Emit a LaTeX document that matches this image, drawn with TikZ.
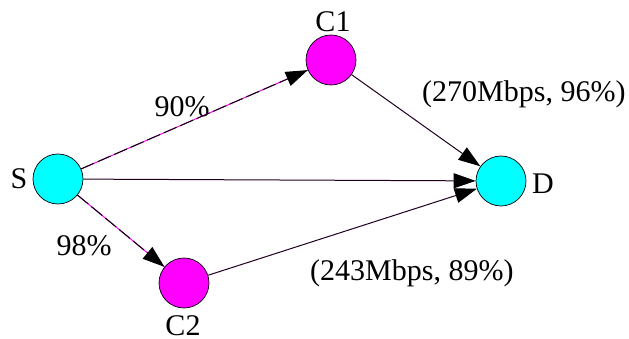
\documentclass[tikz,border=0pt]{standalone}
\usepackage{fontspec}
\setmainfont{Liberation Serif}
\usetikzlibrary{arrows.meta}
\definecolor{vcyan}{RGB}{0,255,255}
\definecolor{vmag}{RGB}{255,0,255}
\definecolor{edgec}{RGB}{32,0,32}
\begin{document}
\begin{tikzpicture}[x=1pt,y=-1pt,
  vert/.style={circle,draw=black,line width=0.7pt,minimum size=50pt,inner sep=0pt},
  cyanv/.style={vert,fill=vcyan},
  magv/.style={vert,fill=vmag},
  lbl/.style={font=\fontsize{30}{32}\selectfont,inner sep=0pt},
  edge/.style={line width=1pt,draw=edgec,-{Triangle[length=22pt,width=15pt,color=black]}},
  dedge/.style={line width=1pt,draw=vmag,postaction={draw=black,dash pattern=on 14pt off 4pt,-{Triangle[length=22pt,width=15pt]}}},
]
\useasboundingbox (0,0) rectangle (629,339);
\node[cyanv] (S) at (58,179) {};
\node[magv] (C1) at (331,60) {};
\node[magv] (C2) at (184,283) {};
\node[cyanv] (D) at (501,181) {};
\node[lbl] (lS) at (19,179) {S};
\node[lbl] (lC1) at (333,22) {C1};
\node[lbl] (lC2) at (183,326) {C2};
\node[lbl] (lD) at (543,184) {D};
\node[lbl] (l90) at (182,107) {90\%};
\node[lbl] (l98) at (84,246) {98\%};
\node[lbl,anchor=west] (l270) at (422,94) {(270Mbps, 96\%)};
\node[lbl,anchor=west] (l243) at (310,273) {(243Mbps, 89\%)};
\draw[dedge] (S) -- (C1);
\draw[dedge] (S) -- (C2);
\draw[edge] (S) -- (D);
\draw[edge] (C1) -- (D);
\draw[edge] (C2) -- (D);
\end{tikzpicture}
\end{document}
